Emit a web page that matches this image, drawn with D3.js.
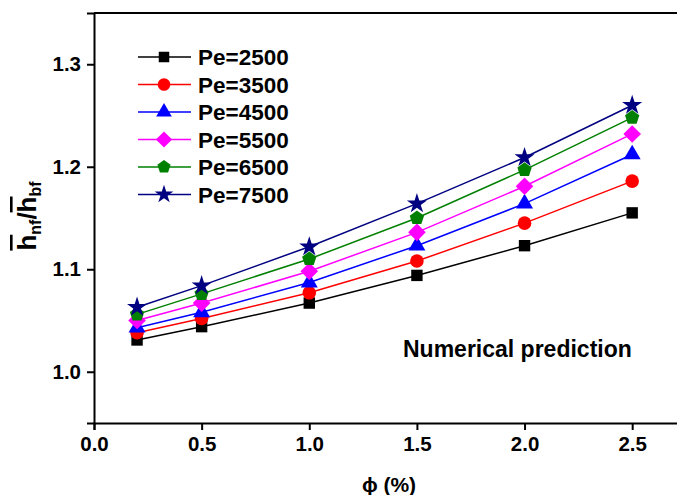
<!DOCTYPE html>
<html><head><meta charset="utf-8">
<script src="https://cdn.jsdelivr.net/npm/d3@7"></script>
<style>body{margin:0;background:#fff}svg{display:block}text{font-family:"Liberation Sans",Arial,sans-serif;font-weight:bold}</style>
</head><body><svg id="c" width="677" height="495"></svg>
<script>
const phi = [0.2, 0.5, 1.0, 1.5, 2.0, 2.5];
const seriesNames = ["Pe=2500","Pe=3500","Pe=4500","Pe=5500","Pe=6500","Pe=7500"];
const pe2500 = [1.031, 1.044, 1.067, 1.094, 1.123, 1.155];
const pe3500 = [1.038, 1.052, 1.077, 1.108, 1.145, 1.186];
const pe4500 = [1.043, 1.058, 1.087, 1.123, 1.164, 1.212];
const pe5500 = [1.050, 1.067, 1.098, 1.136, 1.181, 1.232];
const pe6500 = [1.056, 1.076, 1.110, 1.150, 1.197, 1.248];
const pe7500 = [1.063, 1.084, 1.122, 1.164, 1.209, 1.260];
const xTicks = [0.0, 0.5, 1.0, 1.5, 2.0, 2.5];
const yTicks = [1.0, 1.1, 1.2, 1.3];
const colors = ["#000000","#ff0000","#0000ff","#ff00ff","#008000","#000080"];

const svg = d3.select("#c");
const x = d3.scaleLinear().domain([0, 2.75]).range([94, 686]);
const y = d3.scaleLinear().domain([0.95, 1.35]).range([423, 13]);

const pentagon = {draw(ctx, size){
  const r = Math.sqrt(size/2.378);
  for(let i=0;i<5;i++){const a=-Math.PI/2+i*2*Math.PI/5;const px=r*Math.cos(a),py=r*Math.sin(a); if(i===0)ctx.moveTo(px,py); else ctx.lineTo(px,py);}
  ctx.closePath();
}};
const diamond = {draw(ctx,size){const r=Math.sqrt(size/2);ctx.moveTo(0,-r);ctx.lineTo(r,0);ctx.lineTo(0,r);ctx.lineTo(-r,0);ctx.closePath();}};
const symTypes = [d3.symbolSquare, d3.symbolCircle, d3.symbolTriangle, diamond, pentagon, d3.symbolStar];
const symSizes = [130, 145, 125, 155, 135, 125];

// frame top line
svg.append("line").attr("x1",94).attr("x2",686).attr("y1",13).attr("y2",13).attr("stroke","#000").attr("stroke-width",2);

const gx = svg.append("g").attr("transform","translate(0,423)").call(d3.axisBottom(x).tickValues(xTicks).tickFormat(d3.format(".1f")).tickSizeOuter(0).tickSize(7).tickPadding(6));
const gy = svg.append("g").attr("transform","translate(94,0)").call(d3.axisLeft(y).tickValues(yTicks).tickFormat(d3.format(".1f")).tickSizeOuter(0).tickSize(7).tickPadding(6));
[gx,gy].forEach(g=>{g.select(".domain").attr("stroke-width",2);g.selectAll(".tick line").attr("stroke-width",2);g.selectAll("text").attr("font-size",20.5).attr("font-family","Liberation Sans, Arial").attr("font-weight","bold").attr("fill","#000");});

const data = [pe2500,pe3500,pe4500,pe5500,pe6500,pe7500];
const line = d3.line().x((d,i)=>x(phi[i])).y(d=>y(d));
data.forEach((vals,k)=>{
  svg.append("path").attr("d",line(vals)).attr("fill","none").attr("stroke",colors[k]).attr("stroke-width",1.5);
  svg.selectAll(null).data(vals).enter().append("path")
    .attr("transform",(d,i)=>`translate(${x(phi[i])},${y(d)})`)
    .attr("d",d3.symbol().type(symTypes[k]).size(symSizes[k]))
    .attr("fill",colors[k]);
});

// legend
seriesNames.forEach((n,k)=>{
  const ly = 57 + k*27.5;
  svg.append("line").attr("x1",138).attr("x2",191).attr("y1",ly).attr("y2",ly).attr("stroke",colors[k]).attr("stroke-width",1.5);
  svg.append("path").attr("transform",`translate(164,${ly})`).attr("d",d3.symbol().type(symTypes[k]).size(symSizes[k]*0.85)).attr("fill",colors[k]);
  svg.append("text").attr("x",198).attr("y",ly+8).attr("font-size",22.5).text(n);
});

svg.append("text").attr("x",403).attr("y",357).attr("font-size",23).text("Numerical prediction");
svg.append("text").attr("x",389).attr("y",492).attr("text-anchor","middle").attr("font-size",21).text("ϕ (%)");

const yl = svg.append("text").attr("transform","translate(36,216) rotate(-90)").attr("text-anchor","middle").attr("font-size",26);
yl.append("tspan").attr("text-decoration","overline").text("h");
yl.append("tspan").attr("font-size",16).attr("dy",5).text("nf");
yl.append("tspan").attr("dy",-5).text("/");
yl.append("tspan").attr("text-decoration","overline").text("h");
yl.append("tspan").attr("font-size",16).attr("dy",5).text("bf");
</script></body></html>
